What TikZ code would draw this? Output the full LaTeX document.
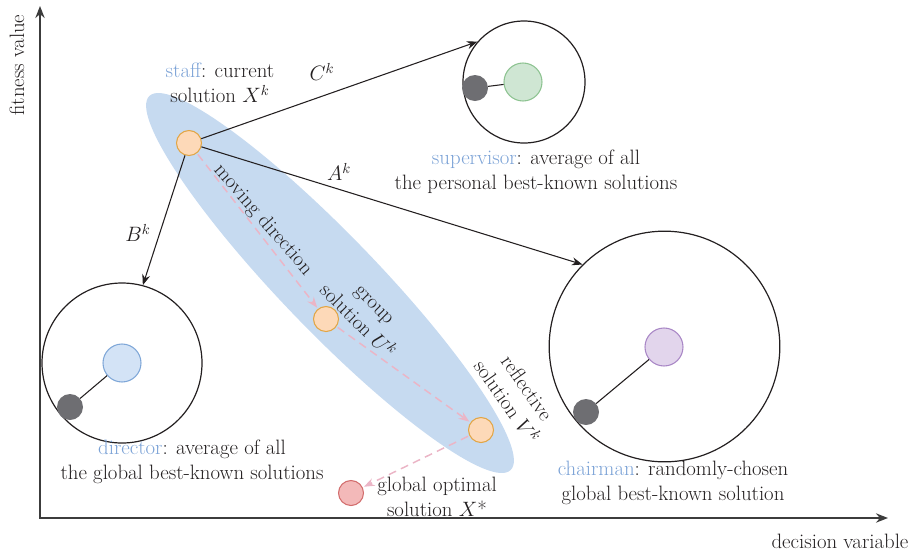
\RequirePackage{fix-cm}
\documentclass[tikz,border=0pt]{standalone}
\usepackage{fontspec}
\usetikzlibrary{arrows.meta,shapes.geometric}
\definecolor{txtblue}{HTML}{7BA2D6}
\definecolor{ellblue}{HTML}{C6DAF0}
\definecolor{orfill}{HTML}{FDD9B8}
\definecolor{ordraw}{HTML}{E2A544}
\definecolor{grfill}{HTML}{CFE6D3}
\definecolor{grdraw}{HTML}{8DC391}
\definecolor{blfill}{HTML}{D3E3F6}
\definecolor{bldraw}{HTML}{7FA7D8}
\definecolor{pufill}{HTML}{E2D5EC}
\definecolor{pudraw}{HTML}{A987C6}
\definecolor{refill}{HTML}{F3B9B9}
\definecolor{redraw}{HTML}{D26C6C}
\definecolor{dotgray}{HTML}{6E6E72}
\definecolor{pinkd}{HTML}{EBB5C6}
\definecolor{ink}{HTML}{231F20}
\definecolor{axisc}{HTML}{3C3C3C}
\begin{document}
\begin{tikzpicture}[x=0.75pt,y=-0.75pt,
  font=\fontsize{15.6}{18.75}\selectfont, text=ink,
  ellshape/.style={ellipse, fill=ellblue, inner sep=0pt, minimum width=390pt, minimum height=72pt, rotate=-46},
  bigc/.style={circle, draw=ink, line width=0.9pt, inner sep=0pt},
  innerc/.style={circle, line width=0.8pt, inner sep=0pt, minimum size=28.5pt},
  gdot/.style={circle, fill=dotgray, inner sep=0pt, minimum size=19.5pt},
  sol/.style={circle, fill=orfill, draw=ordraw, line width=0.8pt, inner sep=0pt, minimum size=18.75pt},
  opt/.style={circle, fill=refill, draw=redraw, line width=0.8pt, inner sep=0pt, minimum size=18.75pt},
  arr/.style={draw=ink, line width=0.8pt, -{Stealth[length=8pt,width=6pt]}},
  thinl/.style={draw=ink, line width=0.8pt},
  dsh/.style={draw=pinkd, line width=1.1pt, dash pattern=on 6pt off 4pt, -{Stealth[length=8pt,width=6pt]}, shorten >=1pt, shorten <=1pt},
  axisl/.style={draw=axisc, line width=1.3pt, {Stealth[length=9pt,width=7pt]}-{Stealth[length=9pt,width=7pt]}},
  txt/.style={align=center, inner sep=0pt},
  lbl/.style={inner sep=0pt}
]
\useasboundingbox (0,0) rectangle (914,551);

% axes
\coordinate (Ytip) at (40,6);
\coordinate (Xtip) at (888,518);
\draw[axisl] (Ytip) |- (Xtip);
\node[txt, rotate=90] (ylab) at (17,65) {fitness value};
\node[txt] (xlab) at (840,541) {decision variable};

% ellipse
\node[ellshape] (ell) at (330,283) {};

% big circles
\node[bigc, minimum size=91.5pt] (sup) at (524,82) {};
\node[bigc, minimum size=120pt] (dir) at (122,363) {};
\node[bigc, minimum size=173pt] (chair) at (664.5,346.5) {};

% inner circles
\node[innerc, fill=grfill, draw=grdraw] (supin) at (523,82) {};
\node[gdot] (supg) at (475,88) {};
\node[innerc, fill=blfill, draw=bldraw] (dirin) at (122,363) {};
\node[gdot] (dirg) at (70,407) {};
\node[innerc, fill=pufill, draw=pudraw] (chin) at (664,347) {};
\node[gdot] (chg) at (586,412) {};
\draw[thinl] (supg) -- (supin);
\draw[thinl] (dirg) -- (dirin);
\draw[thinl] (chg) -- (chin);

% solutions
\node[sol] (staff) at (189,143) {};
\node[sol] (group) at (326,319) {};
\node[sol] (refl) at (481,430) {};
\node[opt] (glob) at (351,493) {};

% arrows
\draw[arr] (staff) -- (sup.139);
\draw[arr] (staff) -- (chair.135);
\draw[arr] (staff) -- (dir.75);
\draw[dsh] (staff) -- (group);
\draw[dsh] (group) -- (refl);
\draw[dsh] (refl) -- (glob);

% arrow labels
\node[lbl] (Ck) at (322,72) {$C^k$};
\node[lbl] (Ak) at (339,172) {$A^k$};
\node[lbl] (Bk) at (138,233) {$B^k$};

% texts
\node[txt] (tstaff) at (220,83) {\textcolor{txtblue}{staff}: current\\solution $X^k$};
\node[txt] (tsup) at (536,172) {\textcolor{txtblue}{supervisor}: average of all\\the personal best-known solutions};
\node[txt] (tdir) at (192,462) {\textcolor{txtblue}{director}: average of all\\the global best-known solutions};
\node[txt] (tchair) at (673,483) {\textcolor{txtblue}{chairman}: randomly-chosen\\global best-known solution};
\node[txt] (tglob) at (437,497) {global optimal\\solution $X$*};
\node[txt, rotate=-49] (tmove) at (263,220) {moving direction};
\node[txt, rotate=-45] (tgroup) at (365,314) {group\\solution $U^k$};
\node[txt, rotate=-55] (trefl) at (517,395) {reflective\\solution $V^k$};
\end{tikzpicture}
\end{document}
